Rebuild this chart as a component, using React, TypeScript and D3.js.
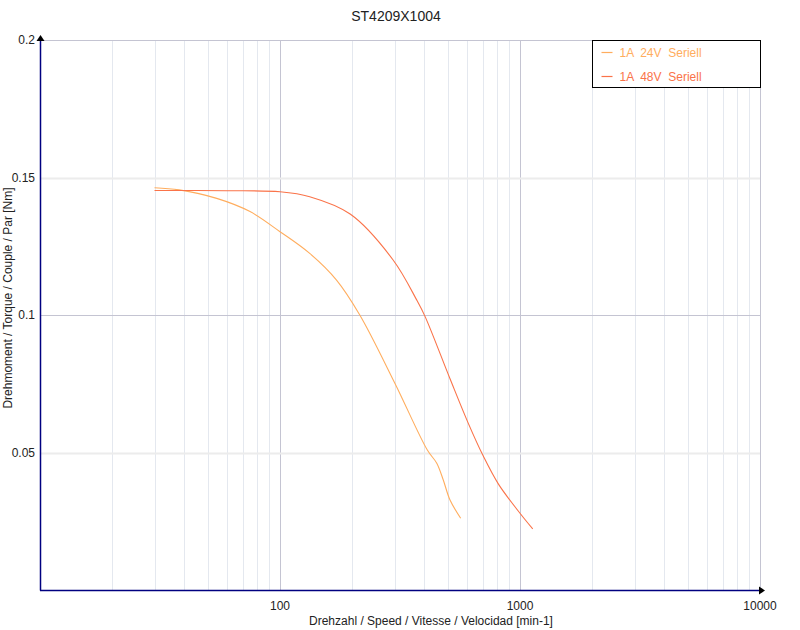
import React, { useEffect, useRef } from 'react';
import * as d3 from 'd3';

// speed [min-1] / torque [Nm]
const speed24 = [30, 38, 54.5, 75, 100, 133, 172, 215, 301, 411, 450, 479, 511, 566];
const torque24 = [0.1463, 0.1455, 0.1424, 0.1376, 0.1303, 0.1224, 0.1127, 0.1, 0.0752, 0.0509, 0.0461, 0.04, 0.0327, 0.0261];

const speed48 = [30, 60, 100, 133, 196, 296, 371, 402, 511, 609, 703, 812, 1000, 1130];
const torque48 = [0.1453, 0.1452, 0.1448, 0.143, 0.1367, 0.12, 0.1055, 0.0995, 0.0768, 0.0606, 0.0487, 0.0386, 0.0279, 0.0222];

const seriesNames = ['1A  24V  Seriell', '1A  48V  Seriell'];
const seriesColors = ['#ffad5e', '#fa7349'];

const xTicks = [100, 1000, 10000];
const yTicks = [0.05, 0.1, 0.15, 0.2];

const chartTitle = 'ST4209X1004';
const xTitle = 'Drehzahl / Speed / Vitesse / Velocidad [min-1]';
const yTitle = 'Drehmoment / Torque / Couple / Par [Nm]';

const App: React.FC = () => {
    const svgRef = useRef<SVGSVGElement>(null);
    const width = 800;
    const height = 630;
    const margin = { top: 40, right: 40, bottom: 40, left: 40 };

    useEffect(() => {
        if (!svgRef.current) return;
        const svg = d3.select(svgRef.current);
        svg.selectAll('*').remove();

        const font = 'Arial, "Liberation Sans", sans-serif';

        const x = d3.scaleLog()
            .domain([10, 10000])
            .range([margin.left, width - margin.right]);
        const y = d3.scaleLinear()
            .domain([0, 0.2])
            .range([height - margin.bottom, margin.top]);

        // vertical grid (log)
        const minor: number[] = [];
        [10, 100, 1000].forEach(d => {
            for (let k = 2; k <= 9; k++) minor.push(d * k);
        });
        svg.append('g')
            .selectAll('line')
            .data(minor)
            .join('line')
            .attr('x1', d => Math.round(x(d)) + 0.5)
            .attr('x2', d => Math.round(x(d)) + 0.5)
            .attr('y1', y(0.2))
            .attr('y2', y(0))
            .attr('stroke', '#e4e8ef')
            .attr('stroke-width', 1);

        svg.append('g')
            .selectAll('line')
            .data(xTicks)
            .join('line')
            .attr('x1', d => Math.round(x(d)) + 0.5)
            .attr('x2', d => Math.round(x(d)) + 0.5)
            .attr('y1', y(0.2))
            .attr('y2', y(0))
            .attr('stroke', '#c4c4d2')
            .attr('stroke-width', 1);

        // horizontal grid
        svg.append('g')
            .selectAll('line')
            .data(yTicks)
            .join('line')
            .attr('x1', x(10))
            .attr('x2', x(10000))
            .attr('y1', d => Math.round(y(d)) + 0.5)
            .attr('y2', d => Math.round(y(d)) + 0.5)
            .attr('stroke', d => (Math.round(d * 100) % 10 === 0 ? '#c4c4d2' : '#ececec'))
            .attr('stroke-width', d => (Math.round(d * 100) % 10 === 0 ? 1 : 2));

        // axes
        svg.append('line')
            .attr('x1', x(10) + 0.5).attr('x2', x(10) + 0.5)
            .attr('y1', y(0.2)).attr('y2', y(0) + 0.5)
            .attr('stroke', '#000080').attr('stroke-width', 1.5);
        svg.append('line')
            .attr('x1', x(10)).attr('x2', x(10000))
            .attr('y1', y(0) + 0.5).attr('y2', y(0) + 0.5)
            .attr('stroke', '#000080').attr('stroke-width', 1.5);

        // arrow heads
        const ax = x(10) + 0.5;
        const ay = y(0.2);
        svg.append('path')
            .attr('d', `M${ax - 4},${ay + 1} L${ax},${ay - 5} L${ax + 4},${ay + 1} Z`)
            .attr('fill', '#000');
        const bx = x(10000);
        const by = y(0) + 0.5;
        svg.append('path')
            .attr('d', `M${bx - 1},${by - 4} L${bx + 5},${by} L${bx - 1},${by + 4} Z`)
            .attr('fill', '#000');

        // tick labels
        svg.append('g')
            .selectAll('text')
            .data(yTicks)
            .join('text')
            .attr('x', margin.left - 5)
            .attr('y', d => y(d) + 4)
            .attr('text-anchor', 'end')
            .attr('font-family', font)
            .attr('font-size', 12)
            .attr('fill', '#222')
            .text(d => String(d));

        svg.append('g')
            .selectAll('text')
            .data(xTicks)
            .join('text')
            .attr('x', d => x(d))
            .attr('y', y(0) + 20)
            .attr('text-anchor', 'middle')
            .attr('font-family', font)
            .attr('font-size', 12)
            .attr('fill', '#222')
            .text(d => String(d));

        // titles
        svg.append('text')
            .attr('x', 396)
            .attr('y', 21)
            .attr('text-anchor', 'middle')
            .attr('font-family', font)
            .attr('font-size', 14)
            .attr('fill', '#222')
            .text(chartTitle);

        svg.append('text')
            .attr('x', 431)
            .attr('y', 625)
            .attr('text-anchor', 'middle')
            .attr('font-family', font)
            .attr('font-size', 12)
            .attr('fill', '#222')
            .text(xTitle);

        svg.append('text')
            .attr('transform', 'rotate(-90)')
            .attr('x', -298)
            .attr('y', 12)
            .attr('text-anchor', 'middle')
            .attr('font-family', font)
            .attr('font-size', 12)
            .attr('fill', '#222')
            .text(yTitle);

        // curves
        const line = d3.line<[number, number]>()
            .x(d => x(d[0]))
            .y(d => y(d[1]))
            .curve(d3.curveCatmullRom.alpha(0.5));

        const series: [number, number][][] = [
            speed24.map((s, i) => [s, torque24[i]]),
            speed48.map((s, i) => [s, torque48[i]]),
        ];

        series.forEach((pts, i) => {
            svg.append('path')
                .attr('d', line(pts) || '')
                .attr('fill', 'none')
                .attr('stroke', seriesColors[i])
                .attr('stroke-width', 1.1);
        });

        // legend
        const lg = svg.append('g').attr('transform', 'translate(592.5,40.5)');
        lg.append('rect')
            .attr('width', 168)
            .attr('height', 47)
            .attr('fill', '#fff')
            .attr('stroke', '#000')
            .attr('stroke-width', 1);
        seriesNames.forEach((name, i) => {
            const cy = 12 + i * 24;
            lg.append('line')
                .attr('x1', 9).attr('x2', 20)
                .attr('y1', cy).attr('y2', cy)
                .attr('stroke', seriesColors[i])
                .attr('stroke-width', 1.2);
            lg.append('text')
                .attr('x', 27)
                .attr('y', cy + 4)
                .attr('font-family', font)
                .attr('font-size', 12)
                .attr('fill', seriesColors[i])
                .attr('xml:space', 'preserve')
                .style('white-space', 'pre')
                .text(name);
        });
    }, []);

    return (
        <div style={{ position: 'absolute', left: 0, top: 0 }}>
            <svg ref={svgRef} width={width} height={height} style={{ display: 'block', background: '#fff' }} />
        </div>
    );
};

export default App;
